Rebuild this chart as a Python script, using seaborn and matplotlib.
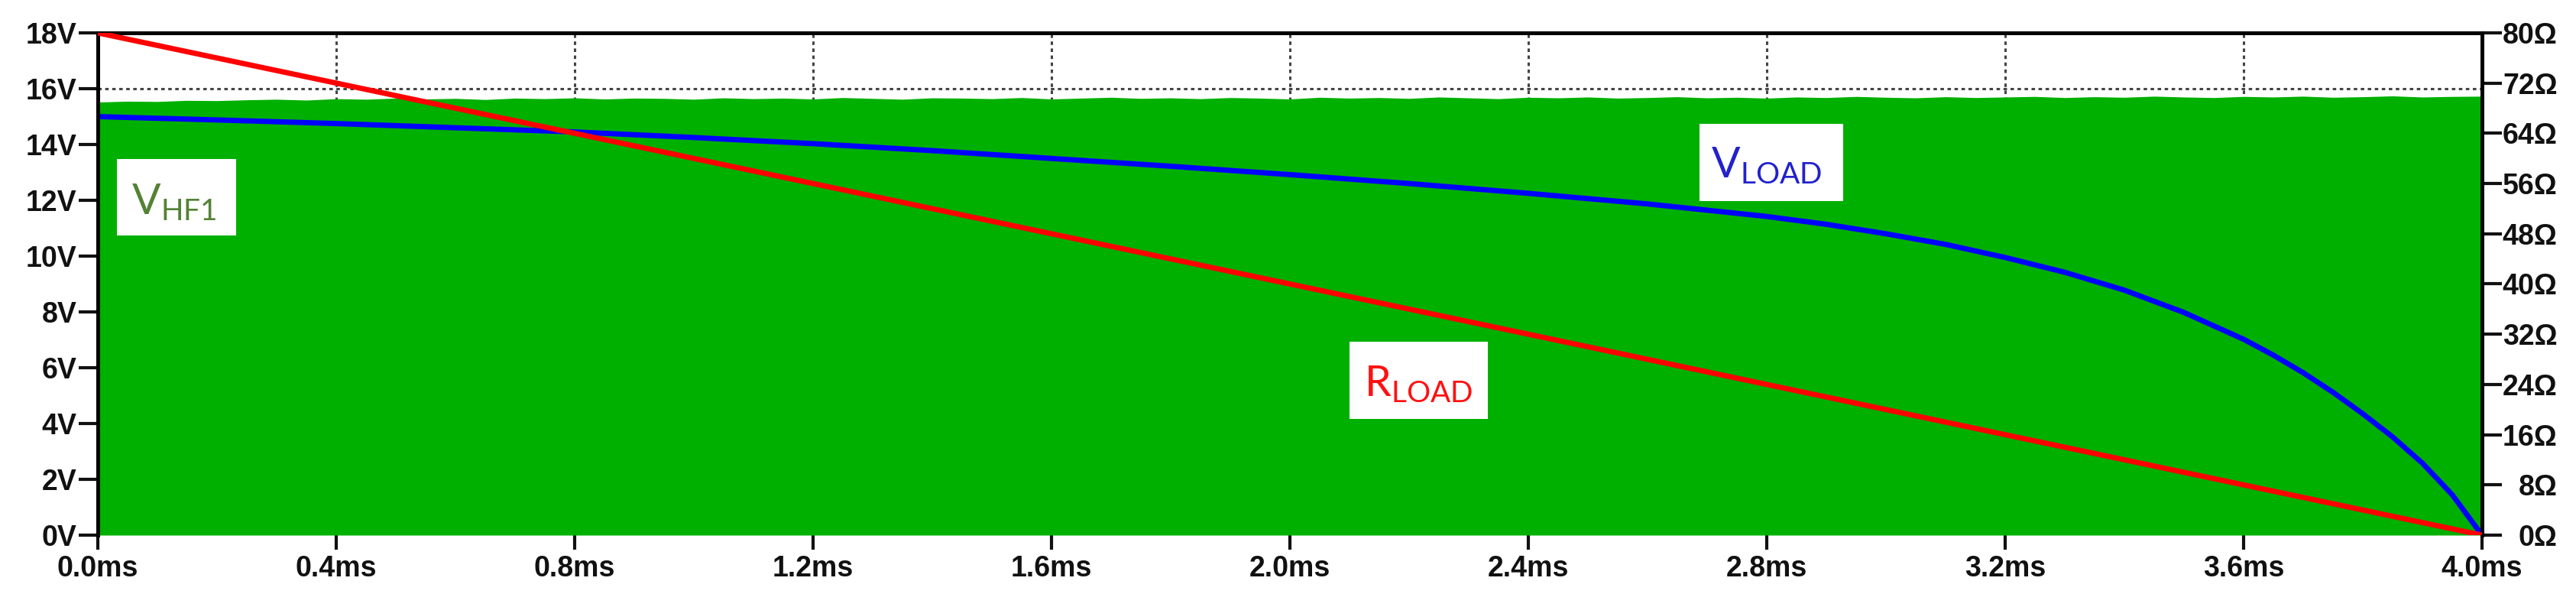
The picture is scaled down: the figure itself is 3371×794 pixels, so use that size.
import numpy as np
import pandas as pd
import matplotlib
matplotlib.use("Agg")
import matplotlib.pyplot as plt
import seaborn as sns
from matplotlib.patches import Rectangle

# ---------------- data ----------------
time_hf_ms = np.round(np.arange(0, 4.0001, 0.05), 3)
hf_peak_v = [15.52, 15.55, 15.54, 15.58, 15.57, 15.60, 15.62, 15.59, 15.64, 15.62,
             15.66, 15.63, 15.65, 15.61, 15.66, 15.64, 15.67, 15.63, 15.66, 15.65,
             15.62, 15.67, 15.64, 15.66, 15.63, 15.68, 15.65, 15.62, 15.67, 15.66,
             15.64, 15.68, 15.63, 15.66, 15.69, 15.65, 15.67, 15.64, 15.68, 15.66,
             15.63, 15.69, 15.66, 15.68, 15.65, 15.70, 15.67, 15.64, 15.69, 15.67,
             15.70, 15.66, 15.68, 15.71, 15.67, 15.69, 15.66, 15.70, 15.68, 15.72,
             15.69, 15.67, 15.71, 15.68, 15.70, 15.72, 15.68, 15.71, 15.69, 15.73,
             15.70, 15.68, 15.72, 15.70, 15.73, 15.69, 15.71, 15.74, 15.70, 15.72, 15.73]

time_vload_ms = [0.0, 0.2, 0.4, 0.6, 0.8, 1.0, 1.2, 1.4, 1.6, 1.8, 2.0, 2.2, 2.4, 2.6,
                 2.8, 2.9, 3.0, 3.1, 3.2, 3.3, 3.4, 3.5, 3.6, 3.65, 3.7, 3.75, 3.8,
                 3.85, 3.9, 3.95, 4.0]
v_load = [15.0, 14.88, 14.75, 14.6, 14.45, 14.25, 14.03, 13.78, 13.5, 13.22, 12.92, 12.6,
          12.25, 11.87, 11.42, 11.14, 10.8, 10.42, 9.95, 9.42, 8.78, 7.98, 7.02, 6.45,
          5.82, 5.12, 4.35, 3.52, 2.58, 1.45, 0.0]

time_rload_ms = [0.0, 4.0]
r_load = [80.0, 0.0]

x_ticks = [0.0, 0.4, 0.8, 1.2, 1.6, 2.0, 2.4, 2.8, 3.2, 3.6, 4.0]
x_labels = ["0.0ms", "0.4ms", "0.8ms", "1.2ms", "1.6ms", "2.0ms", "2.4ms", "2.8ms", "3.2ms", "3.6ms", "4.0ms"]
v_ticks = [0, 2, 4, 6, 8, 10, 12, 14, 16, 18]
v_labels = ["0V", "2V", "4V", "6V", "8V", "10V", "12V", "14V", "16V", "18V"]
r_ticks = [0, 8, 16, 24, 32, 40, 48, 56, 64, 72, 80]
r_labels = ["0Ω", "8Ω", "16Ω", "24Ω", "32Ω", "40Ω", "48Ω", "56Ω", "64Ω", "72Ω", "80Ω"]

# ---------------- style ----------------
sns.set_theme(style="white")
plt.rcParams["font.family"] = ["Liberation Sans", "DejaVu Sans"]
plt.rcParams["mathtext.fontset"] = "custom"
plt.rcParams["mathtext.rm"] = "Lato"
plt.rcParams["mathtext.it"] = "Lato:italic"
plt.rcParams["mathtext.bf"] = "Lato:bold"

GREEN = "#00B000"
fig = plt.figure(figsize=(33.71, 7.94), dpi=100)
ax = fig.add_axes([128 / 3371, 1 - 700 / 794, (3248 - 128) / 3371, (700 - 43) / 794])
ax2 = ax.twinx()

hf_df = pd.DataFrame({"t": time_hf_ms, "v": hf_peak_v})
vl_df = pd.DataFrame({"t": time_vload_ms, "v": v_load})
rl_df = pd.DataFrame({"t": time_rload_ms, "r": r_load})

ax.fill_between(hf_df["t"], 0, hf_df["v"], color=GREEN, lw=0, zorder=1)
sns.lineplot(data=vl_df, x="t", y="v", ax=ax, color="#0000FF", lw=5, zorder=4, sort=False)
sns.lineplot(data=rl_df, x="t", y="r", ax=ax2, color="#FF0000", lw=5, zorder=4, sort=False)

ax.set_xlim(0, 4.0)
ax.set_ylim(0, 18)
ax2.set_ylim(0, 80)
ax.set_xlabel("")
ax.set_ylabel("")
ax2.set_ylabel("")

ax.set_axisbelow(True)
ax.grid(True, color="#444444", linestyle=(0, (1.5, 1.5)), linewidth=2.2)
ax2.grid(False)

ax.set_xticks(x_ticks)
ax.set_xticklabels(x_labels)
ax.set_yticks(v_ticks)
ax.set_yticklabels(v_labels)
ax2.set_yticks(r_ticks)
ax2.set_yticklabels(r_labels)

for lbl in ax.get_xticklabels() + ax.get_yticklabels() + ax2.get_yticklabels():
    lbl.set_fontsize(27)
    lbl.set_fontweight("bold")
    lbl.set_color("#111111")
for lbl in ax2.get_yticklabels():
    lbl.set_horizontalalignment("right")

ax.tick_params(axis="x", direction="out", length=14, width=3, pad=5, bottom=True, colors="#111111")
ax.tick_params(axis="y", direction="out", length=18, width=3, pad=2, left=True, colors="#111111")
ax2.tick_params(axis="y", direction="out", length=19, width=3, pad=52, right=True, colors="#111111")

for a in (ax, ax2):
    for side in ("left", "top", "right"):
        a.spines[side].set_visible(True)
        a.spines[side].set_color("#000000")
        a.spines[side].set_linewidth(3.5)
    a.spines["bottom"].set_visible(False)

# ---------------- labels in white boxes ----------------
boxes = [
    # (x0, x1, y0, y1, text_x, text_baseline_y, text, color)
    (0.032, 0.232, 10.74, 13.48, 0.128, 11.5, r"$\mathrm{V}_{\mathrm{HF1}}$", "#548235"),
    (2.687, 2.928, 11.97, 14.74, 2.80, 12.82, r"$\mathrm{V}_{\mathrm{LOAD}}$", "#2222CC"),
    (2.100, 2.332, 4.16, 6.93, 2.215, 4.99, r"$\mathrm{R}_{\mathrm{LOAD}}$", "#FF1010"),
]
for x0, x1, y0, y1, tx, ty, txt, col in boxes:
    ax2.add_patch(Rectangle((x0, y0 / 18 * 80), x1 - x0, (y1 - y0) / 18 * 80,
                            facecolor="white", edgecolor="none", zorder=5))
    ax2.text(tx, ty / 18 * 80, txt, color=col, fontsize=40, ha="center", va="baseline", zorder=6)

fig.savefig("out.png", dpi=100)
